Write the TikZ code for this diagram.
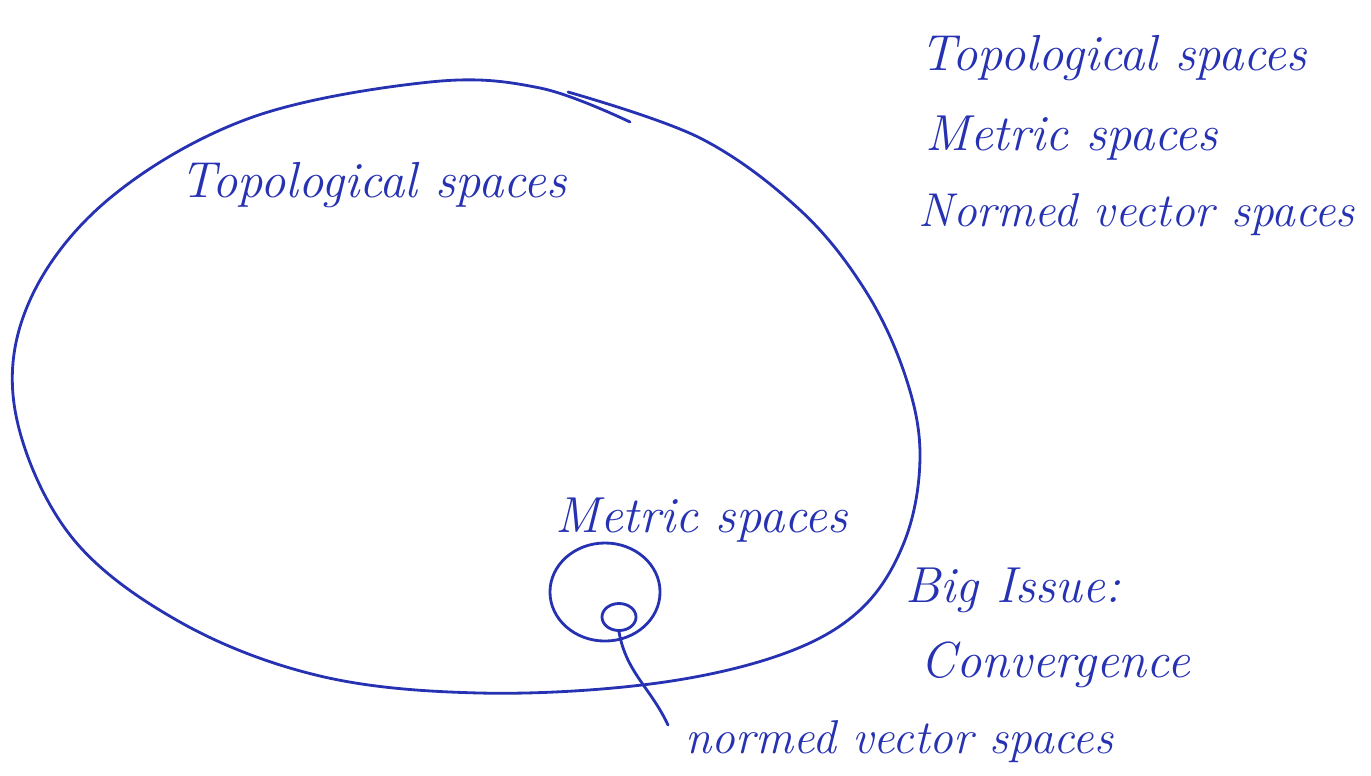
\documentclass[tikz,border=0pt]{standalone}
\usetikzlibrary{shapes.geometric}
\definecolor{inkblue}{RGB}{38,50,178}
\tikzset{
  ink/.style={draw=inkblue, line width=0.8pt, line cap=round, line join=round},
  hand/.style={text=inkblue, font=\Large\itshape, inner sep=0pt, anchor=west},
  subset/.style={ink, ellipse, inner sep=0pt}
}
\begin{document}
\begin{tikzpicture}[x=0.01cm, y=-0.01cm]
    \useasboundingbox (0,0) rectangle (1371,775);
    % outer set
    \draw[ink] plot[smooth, tension=0.6] coordinates {(568,92) (700,138) (800,210) (865,290) (905,375) (920,455) (905,540) (860,610) (780,655) (650,684) (480,693) (320,676) (180,622) (70,535) (15,410) (30,300) (110,198) (250,118) (430,82) (540,88) (630,122)};
    \node[hand] (topo) at (180,185) {Topological spaces};
    % inner sets
    \node[subset, minimum width=1.1cm, minimum height=0.98cm] (metricset) at (605,592) {};
    \node[subset, minimum width=0.34cm, minimum height=0.27cm] (normedset) at (619,617) {};
    \node[hand] (metric) at (555,520) {Metric spaces};
    \node[hand, font=\fontsize{13.5}{16}\selectfont\itshape] (normed) at (685,742) {normed vector spaces};
    \coordinate (normedtip) at (668,725);
    \draw[ink] (normedset.south) to[out=-80, in=115] (normedtip);
    % list at right
    \node[hand] (listtopo) at (920,58) {Topological spaces};
    \node[hand] (listmetric) at (925,138) {Metric spaces};
    \node[hand, font=\fontsize{13.5}{16}\selectfont\itshape] (listnormed) at (918,215) {Normed vector spaces};
    \node[hand] (issue) at (905,590) {Big Issue:};
    \node[hand] (conv) at (920,665) {Convergence};
\end{tikzpicture}
\end{document}
